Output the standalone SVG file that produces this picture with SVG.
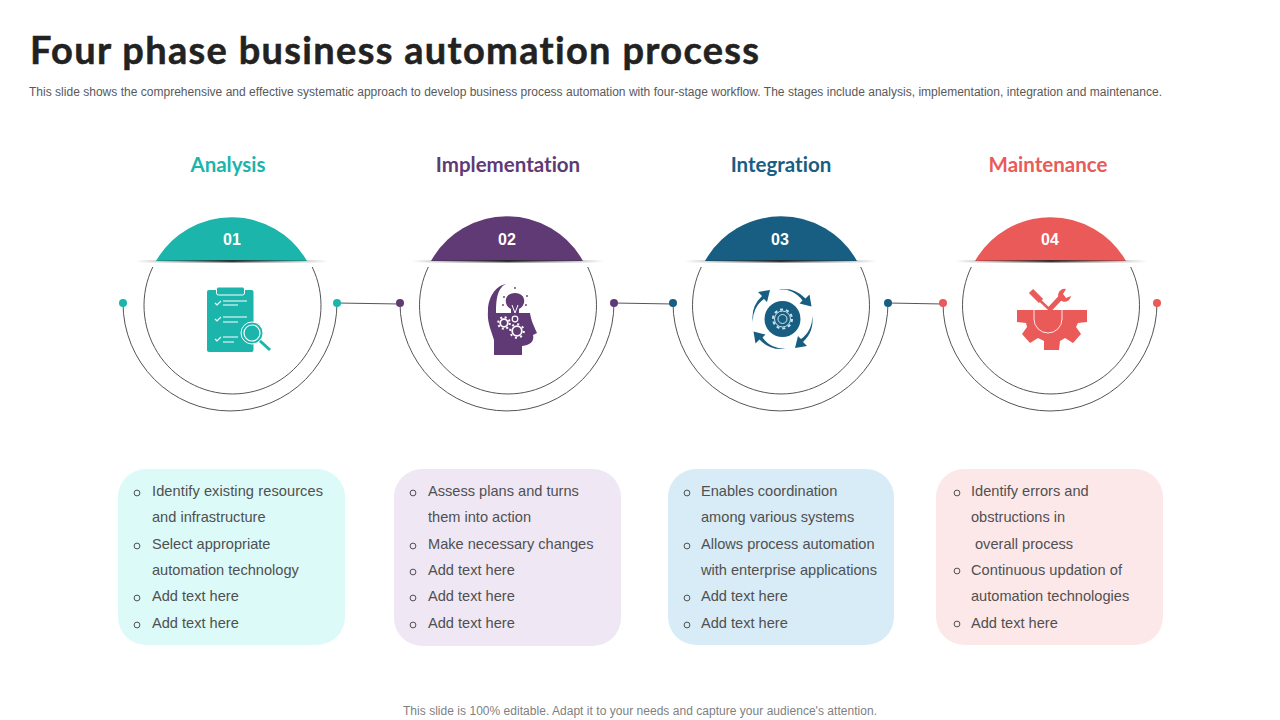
<svg xmlns="http://www.w3.org/2000/svg" width="1280" height="720" viewBox="0 0 1280 720">
<style>
text{font-family:"Liberation Sans",Arial,sans-serif}
.title{font-family:Lato,"Open Sans",sans-serif;font-weight:700;font-size:38px;fill:#222;stroke:#222;stroke-width:.5;font-variant-ligatures:none}
.sub{font-size:12px;fill:#595959}
.foot{font-size:12px;fill:#7f7f7f}
.head{font-family:Lato,"Open Sans",sans-serif;font-weight:700;font-size:20.5px;text-anchor:middle;font-variant-ligatures:none}
.num{font-weight:700;font-size:16px;fill:#fff;text-anchor:middle}
.li{font-size:14.6px;fill:#505050}
.arc{fill:none;stroke:#555;stroke-width:1}
.bul{fill:none;stroke:#505050;stroke-width:1}
.w{fill:none;stroke:#fff}
</style>
<defs>
<linearGradient id="sh"><stop offset="0" stop-color="#333" stop-opacity="0"/><stop offset=".5" stop-color="#222" stop-opacity=".9"/><stop offset="1" stop-color="#333" stop-opacity="0"/></linearGradient>
<g id="b"><circle r="2.900" class="bul"/></g>
<path id="arw" d="M753 323A30 30 0 0 1 762 296L758 292L770 290L767 302L764 299A26 26 0 0 0 753 323Z"/>
</defs>
<rect width="1280" height="720" fill="#fff"/>
<text class="title" x="30" y="64" textLength="729" lengthAdjust="spacing">Four phase business automation process</text>
<text class="sub" x="29" y="96" textLength="1133" lengthAdjust="spacing">This slide shows the comprehensive and effective systematic approach to develop business process automation with four-stage workflow. The stages include analysis, implementation, integration and maintenance.</text>

<g id="connectors" stroke="#555" stroke-width="1" fill="none">
<path d="M337 303L400 304"/><path d="M614 303L673 304"/><path d="M888 303L943 304"/>
</g>

<g id="node1">
<text class="head" x="228" y="172" fill="#1bb5ac">Analysis</text>
<path class="arc" d="M152.800 267A88.500 88.500 0 1 0 312.200 267"/>
<path class="arc" d="M123 303A107 108 0 0 0 337 303"/>
<circle cx="123" cy="303" r="4" fill="#1bb5ac"/><circle cx="337" cy="303" r="4" fill="#1bb5ac"/>
<path d="M156 261A87 87 0 0 1 307 261Z" fill="#1bb5ac"/>
<rect x="136" y="260" width="192" height="2.500" fill="url(#sh)"/>
<text class="num" x="232" y="245">01</text>
<rect x="207" y="290" width="46.500" height="62" rx="2" fill="#1bb5ac"/>
<rect x="216.500" y="287" width="28" height="8" rx="2" fill="#1bb5ac" stroke="#fff" stroke-width="1"/>
<g class="w" stroke-width="1.200"><path d="M215 303l2 2 4-4M223 301h24M223 305h15M215 319l2 2 4-4M223 317h24M223 322h15M215 339l2 2 4-4M223 337h15M223 342h11"/></g>
<path d="M259 340l11 10" stroke="#1bb5ac" stroke-width="3" fill="none"/>
<circle cx="252" cy="333" r="11" fill="#1bb5ac" stroke="#fff" stroke-width="1"/>
<circle cx="252" cy="333" r="8" fill="#1bb5ac" stroke="#fff" stroke-width="1.200"/>
</g>

<g id="node2">
<text class="head" x="508" y="172" fill="#5f3a74">Implementation</text>
<path class="arc" d="M428.300 267A88.500 88.500 0 1 0 587.700 267"/>
<path class="arc" d="M400 303A107 108 0 0 0 614 303"/>
<circle cx="400" cy="303" r="4" fill="#5f3a74"/><circle cx="614" cy="303" r="4" fill="#5f3a74"/>
<path d="M431 261A87 87 0 0 1 583 261Z" fill="#5f3a74"/>
<rect x="412" y="260" width="192" height="2.500" fill="url(#sh)"/>
<text class="num" x="507" y="245">02</text>
<path d="M506 284C497 288 496 300 496 313H530C531 319 532 322 537 333L533 335C534 339 533 345 522 346V355H494V340C491 330 487 322 488 311C488 298 495 286 506 284Z" fill="#5f3a74"/>
<path d="M511 313V309C503 305 504 293 515 293C526 293 527 305 519 309V313Z" fill="#5f3a74"/>
<path d="M512 305l3 8 3-8" fill="none" stroke="#fff" stroke-width="1"/>
<g fill="none" stroke="#fff">
<circle cx="515" cy="319" r="2.800" stroke-width="1.200"/>
<circle cx="504" cy="323" r="3.800" stroke-width="1.800"/>
<circle cx="504" cy="323" r="5.800" stroke-width="2" stroke-dasharray="2 2.550"/>
<circle cx="517" cy="331" r="4.800" stroke-width="1.800"/>
<circle cx="517" cy="331" r="6.800" stroke-width="2" stroke-dasharray="2 3.340"/>
</g>
<g fill="#5f3a74"><circle cx="504" cy="297" r=".9"/><circle cx="527" cy="296" r=".9"/><circle cx="526" cy="305" r=".9"/><circle cx="515" cy="288" r=".9"/><circle cx="503" cy="305" r=".9"/></g>
</g>

<g id="node3">
<text class="head" x="781" y="172" fill="#175e82">Integration</text>
<path class="arc" d="M701.300 267A88.500 88.500 0 1 0 860.700 267"/>
<path class="arc" d="M673 303A107.500 108 0 0 0 888 303"/>
<circle cx="673" cy="303" r="4" fill="#175e82"/><circle cx="888" cy="303" r="4" fill="#175e82"/>
<path d="M705 261A87 87 0 0 1 857 261Z" fill="#175e82"/>
<rect x="685" y="260" width="192" height="2.500" fill="url(#sh)"/>
<text class="num" x="780" y="245">03</text>
<circle cx="782.500" cy="319" r="18" fill="#175e82"/>
<g fill="none" stroke="#cfe6f0" stroke-width="1"><circle cx="782.500" cy="319" r="4.500"/><circle cx="782.500" cy="319" r="8"/><circle cx="782.500" cy="319" r="9.500" stroke-width="2" stroke-dasharray="3 3"/></g>
<g fill="#175e82">
<use href="#arw"/>
<use href="#arw" transform="rotate(90 782.500 319)"/>
<use href="#arw" transform="rotate(180 782.500 319)"/>
<use href="#arw" transform="rotate(270 782.500 319)"/>
</g>
</g>

<g id="node4">
<text class="head" x="1048" y="172" fill="#e95a58">Maintenance</text>
<path class="arc" d="M971.300 267A88.500 88.500 0 1 0 1130.700 267"/>
<path class="arc" d="M943 303A107 108 0 0 0 1157 303"/>
<circle cx="943" cy="303" r="4" fill="#e95a58"/><circle cx="1157" cy="303" r="4" fill="#e95a58"/>
<path d="M975 261A87 87 0 0 1 1126 261Z" fill="#e95a58"/>
<rect x="955" y="260" width="192" height="2.500" fill="url(#sh)"/>
<text class="num" x="1050" y="245">04</text>
<path d="M1017 310H1087V322L1078 323L1076 327L1081 334L1073 343L1065 338L1060 341L1059 350H1044L1044 341L1038 338L1030 343L1022 334L1027 327L1026 323L1017 322Z" fill="#e95a58"/>
<path d="M1031 292L1050 310" stroke="#e95a58" stroke-width="2.500" fill="none"/>
<path d="M1031 291L1041 301" stroke="#e95a58" stroke-width="6" fill="none"/>
<path d="M1049 310L1063 295" stroke="#e95a58" stroke-width="5" fill="none"/>
<path d="M1066 289A6.500 6.500 0 1 0 1071 296L1066 298L1063 294Z" fill="#e95a58"/>
<path d="M1034 310V319A14 14 0 0 0 1062 319V310" fill="none" stroke="#fde8e9" stroke-width="1"/>
</g>

<g id="panel1">
<rect x="118" y="469" width="227" height="176" rx="28" fill="#dcfaf8"/>
<use href="#b" x="137" y="493"/><use href="#b" x="137" y="546"/><use href="#b" x="137" y="598"/><use href="#b" x="137" y="625"/>
<text class="li" x="152" y="496" textLength="171" lengthAdjust="spacing">Identify existing resources</text>
<text class="li" x="152" y="522">and infrastructure</text>
<text class="li" x="152" y="549">Select appropriate</text>
<text class="li" x="152" y="575">automation technology</text>
<text class="li" x="152" y="601">Add text here</text>
<text class="li" x="152" y="628">Add text here</text>
</g>
<g id="panel2">
<rect x="394" y="469" width="227" height="177" rx="28" fill="#efe7f4"/>
<use href="#b" x="413" y="493"/><use href="#b" x="413" y="546"/><use href="#b" x="413" y="572"/><use href="#b" x="413" y="598"/><use href="#b" x="413" y="625"/>
<text class="li" x="428" y="496">Assess plans and turns</text>
<text class="li" x="428" y="522">them into action</text>
<text class="li" x="428" y="549">Make necessary changes</text>
<text class="li" x="428" y="575">Add text here</text>
<text class="li" x="428" y="601">Add text here</text>
<text class="li" x="428" y="628">Add text here</text>
</g>
<g id="panel3">
<rect x="668" y="469" width="226" height="176" rx="28" fill="#d7ecf7"/>
<use href="#b" x="687" y="493"/><use href="#b" x="687" y="546"/><use href="#b" x="687" y="598"/><use href="#b" x="687" y="625"/>
<text class="li" x="701" y="496">Enables coordination</text>
<text class="li" x="701" y="522">among various systems</text>
<text class="li" x="701" y="549">Allows process automation</text>
<text class="li" x="701" y="575">with enterprise applications</text>
<text class="li" x="701" y="601">Add text here</text>
<text class="li" x="701" y="628">Add text here</text>
</g>
<g id="panel4">
<rect x="936" y="469" width="227" height="176" rx="28" fill="#fde8e9"/>
<use href="#b" x="957" y="493"/><use href="#b" x="957" y="571"/><use href="#b" x="957" y="624"/>
<text class="li" x="971" y="496">Identify errors and</text>
<text class="li" x="971" y="522">obstructions in</text>
<text class="li" x="975" y="549">overall process</text>
<text class="li" x="971" y="575" textLength="151" lengthAdjust="spacing">Continuous updation of</text>
<text class="li" x="971" y="601">automation technologies</text>
<text class="li" x="971" y="628">Add text here</text>
</g>
<text class="foot" x="403" y="715" textLength="474" lengthAdjust="spacing">This slide is 100% editable. Adapt it to your needs and capture your audience's attention.</text>
</svg>
